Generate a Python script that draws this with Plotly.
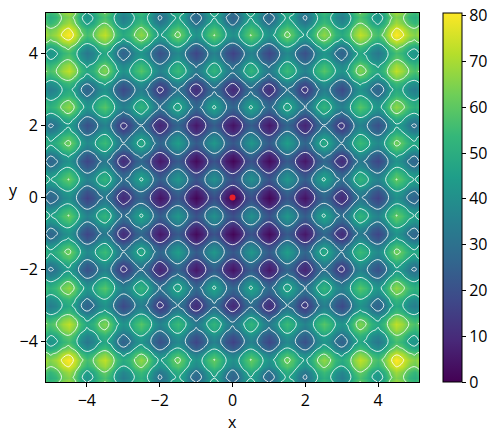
import plotly.graph_objects as go
import numpy as np

# Sample positions from the centre out to the edge (the picture is mirror-symmetric)
grid_pos = [0, 1/6, 2/6, 3/6, 4/6, 5/6, 1, 7/6, 8/6, 9/6, 10/6, 11/6, 2, 13/6, 14/6, 15/6, 16/6, 17/6, 3,
            19/6, 20/6, 21/6, 22/6, 23/6, 4, 25/6, 26/6, 27/6, 28/6, 29/6, 5, 5.12]

# Values read for one quadrant (row = y, column = x, from centre outwards)
quadrant = [
 [0,5,15,20,15,6,1,6,17,22,18,8,4,10,20,26,22,13,9,15,26,32,28,20,16,22,34,40,37,28,25,29],
 [5,10,20,25,20,11,6,11,22,27,23,13,9,15,25,31,27,18,14,20,31,37,33,25,21,27,39,45,42,33,30,34],
 [15,20,30,35,31,21,16,22,32,37,33,24,19,25,36,41,37,28,24,30,41,47,44,35,31,38,49,55,52,44,40,44],
 [20,25,35,41,36,26,21,27,37,43,38,29,24,30,41,47,42,33,29,35,46,53,49,40,36,43,54,61,57,49,45,49],
 [15,20,31,36,31,21,16,22,32,38,33,24,19,25,36,42,38,28,24,30,42,48,44,35,31,38,49,56,52,44,40,44],
 [6,11,21,26,21,11,7,12,23,28,24,14,10,15,26,32,28,19,15,21,32,38,34,25,22,28,40,46,43,34,31,35],
 [1,6,16,21,16,7,2,7,18,23,19,9,5,11,21,27,23,14,10,16,27,33,29,21,17,23,35,41,38,29,26,30],
 [6,11,22,27,22,12,7,13,23,29,24,15,10,16,27,33,29,19,15,21,33,39,35,26,22,29,40,47,43,35,31,35],
 [17,22,32,37,32,23,18,23,34,39,35,25,21,27,37,43,39,30,26,32,43,49,45,37,33,39,51,57,54,45,42,46],
 [22,27,37,43,38,28,23,29,39,45,40,31,26,32,43,49,44,35,31,37,48,55,51,42,38,45,56,63,59,51,47,51],
 [18,23,33,38,33,24,19,24,35,40,36,26,22,28,38,44,40,31,27,33,44,50,46,38,34,40,52,58,55,46,43,47],
 [8,13,24,29,24,14,9,15,25,31,26,17,12,18,29,35,31,21,17,23,35,41,37,28,24,31,42,49,45,37,33,37],
 [4,9,19,24,19,10,5,10,21,26,22,12,8,14,24,30,26,17,13,19,30,36,32,24,20,26,38,44,41,32,29,33],
 [10,15,25,30,25,15,11,16,27,32,28,18,14,19,30,36,32,23,19,25,36,42,38,29,26,32,44,50,47,38,35,39],
 [20,25,36,41,36,26,21,27,37,43,38,29,24,30,41,47,43,33,29,35,47,53,49,40,36,43,54,61,57,49,45,49],
 [26,31,41,47,42,32,27,33,43,49,44,35,30,36,47,53,48,39,35,41,52,59,55,46,42,49,60,67,63,55,51,55],
 [22,27,37,42,38,28,23,29,39,44,40,31,26,32,43,48,44,35,31,37,48,54,51,42,38,45,56,62,59,51,47,51],
 [13,18,28,33,28,19,14,19,30,35,31,21,17,23,33,39,35,26,22,28,39,45,41,33,29,35,47,53,50,41,38,42],
 [9,14,24,29,24,15,10,15,26,31,27,17,13,19,29,35,31,22,18,24,35,41,37,29,25,31,43,49,46,37,34,38],
 [15,20,30,35,30,21,16,21,32,37,33,23,19,25,35,41,37,28,24,30,41,47,43,35,31,37,49,55,52,43,40,44],
 [26,31,41,46,42,32,27,33,43,48,44,35,30,36,47,52,48,39,35,41,52,58,55,46,42,49,60,66,63,55,51,55],
 [32,37,47,53,48,38,33,39,49,55,50,41,36,42,53,59,54,45,41,47,58,65,61,52,48,55,66,73,69,61,57,61],
 [28,33,44,49,44,34,29,35,45,51,46,37,32,38,49,55,51,41,37,43,55,61,57,48,44,51,62,69,65,57,53,57],
 [20,25,35,40,35,25,21,26,37,42,38,28,24,29,40,46,42,33,29,35,46,52,48,39,36,42,54,60,57,48,45,49],
 [16,21,31,36,31,22,17,22,33,38,34,24,20,26,36,42,38,29,25,31,42,48,44,36,32,38,50,56,53,44,41,45],
 [22,27,38,43,38,28,23,29,39,45,40,31,26,32,43,49,45,35,31,37,49,55,51,42,38,45,56,63,59,51,47,51],
 [34,39,49,54,49,40,35,40,51,56,52,42,38,44,54,60,56,47,43,49,60,66,62,54,50,56,68,74,71,62,59,63],
 [40,45,55,61,56,46,41,47,57,63,58,49,44,50,61,67,62,53,49,55,66,73,69,60,56,63,74,81,77,69,65,69],
 [37,42,52,57,52,43,38,43,54,59,55,45,41,47,57,63,59,50,46,52,63,69,65,57,53,59,71,77,74,65,62,66],
 [28,33,44,49,44,34,29,35,45,51,46,37,32,38,49,55,51,41,37,43,55,61,57,48,44,51,62,69,65,57,53,57],
 [25,30,40,45,40,31,26,31,42,47,43,33,29,35,45,51,47,38,34,40,51,57,53,45,41,47,59,65,62,53,50,54],
 [29,34,44,49,44,35,30,35,46,51,47,37,33,39,49,55,51,42,38,44,55,61,57,49,45,51,63,69,66,57,54,58],
]

minimum_x = [0]
minimum_y = [0]
x_ticks = [-4, -2, 0, 2, 4]
y_ticks = [-4, -2, 0, 2, 4]
bar_ticks = [0, 10, 20, 30, 40, 50, 60, 70, 80]
# Half-unit offset keeps the lines from running exactly through whole-number table entries
contour_levels = dict(start=15.5, end=75.5, size=15)

half = np.array(quadrant)
top = np.hstack([half[:, :0:-1], half])
z = np.vstack([top[:0:-1], top])
pos = np.array(grid_pos)
coords = np.concatenate([-pos[:0:-1], pos])

FONT = "Open Sans"
W, H = 500, 441
L, R, T, B = 46, 419, 13, 382

fig = go.Figure()
fig.add_trace(go.Heatmap(
    x=coords, y=coords, z=z, colorscale="Viridis", zmin=0, zmax=80.6, hoverinfo="skip", zsmooth="best",
    colorbar=dict(
        x=(443 - L) / (R - L), xanchor="left", xpad=0, ypad=0, y=0.5, yanchor="middle",
        len=1, lenmode="fraction", thickness=18.5, thicknessmode="pixels",
        tickmode="array", tickvals=bar_ticks, ticks="outside", ticklen=4, tickwidth=1,
        tickcolor="black", outlinewidth=1, outlinecolor="black",
        tickfont=dict(family=FONT, size=16, color="black"),
    ),
))
fig.add_trace(go.Contour(
    x=coords, y=coords, z=z, showscale=False, hoverinfo="skip",
    contours=dict(coloring="none", **contour_levels),
    line=dict(color="rgba(255,255,255,0.85)", width=1, smoothing=1.3),
))
fig.add_trace(go.Scatter(
    x=minimum_x, y=minimum_y, mode="markers", showlegend=False,
    marker=dict(color="#e8202a", size=6),
))

axis = dict(
    range=[-5.12, 5.12], tickmode="array", ticks="outside", ticklen=4, tickwidth=1, tickcolor="black",
    showline=True, linecolor="black", linewidth=1, mirror=True, showgrid=False, zeroline=False,
    tickfont=dict(family=FONT, size=16, color="black"),
)
fig.update_layout(
    width=W, height=H, autosize=False, showlegend=False,
    margin=dict(l=L, r=W - R, t=T, b=H - B, pad=0),
    paper_bgcolor="white", plot_bgcolor="white",
    xaxis=dict(axis, tickvals=x_ticks),
    yaxis=dict(axis, tickvals=y_ticks),
    annotations=[
        dict(text="x", xref="paper", yref="paper", x=0.5, y=-0.108, yanchor="middle", xanchor="center",
             showarrow=False, font=dict(family=FONT, size=16, color="black")),
        dict(text="y", xref="paper", yref="paper", x=-0.087, y=0.5, yanchor="middle", xanchor="center",
             yshift=8, showarrow=False, font=dict(family=FONT, size=16, color="black")),
    ],
)
fig.write_html("out.html", config={"displayModeBar": False}, post_script="document.body.style.margin='0';")
